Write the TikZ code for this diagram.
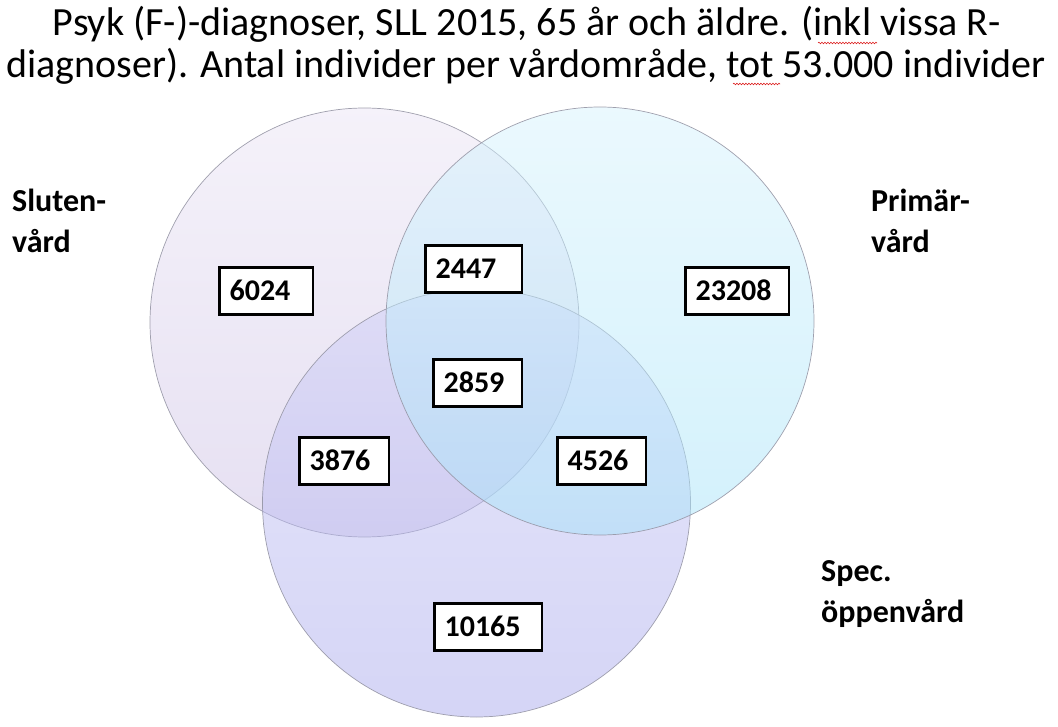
\documentclass[tikz,border=0pt]{standalone}
\usepackage{fontspec}
\setmainfont{Carlito}
\usetikzlibrary{decorations.pathmorphing}
\definecolor{cAtop}{RGB}{235,229,245}
\definecolor{cAbot}{RGB}{205,193,229}
\definecolor{cBtop}{RGB}{215,243,253}
\definecolor{cBbot}{RGB}{167,227,249}
\definecolor{cCtop}{RGB}{207,207,247}
\definecolor{cCbot}{RGB}{171,171,237}
\definecolor{rim}{RGB}{150,150,165}
\definecolor{squig}{RGB}{220,30,30}
\tikzset{
  vcirc/.style={circle, inner sep=0pt, draw=rim, line width=0.7pt, fill opacity=0.5, draw opacity=0.9},
  numbox/.style={draw=black, line width=2.6pt, fill=white, anchor=west,
     font=\bfseries\fontsize{30}{32}\selectfont, minimum height=47.4pt,
     inner xsep=10pt, inner ysep=0pt, align=left, text height=19pt, text depth=0pt},
  lbl/.style={font=\bfseries\fontsize{32}{41}\selectfont, align=left, inner sep=0pt, anchor=base west},
  ttl/.style={font=\fontsize{40}{42}\selectfont, inner sep=0pt, anchor=base},
  spell/.style={draw=squig, line width=0.6pt, decorate, decoration={snake, amplitude=0.8pt, segment length=3pt}}
}
\begin{document}
\begin{tikzpicture}[x=1pt,y=-1pt]
\useasboundingbox (0,0) rectangle (1058,727);
% circles
\node[vcirc, minimum size=429pt, top color=cAtop, bottom color=cAbot] (cA) at (364.5,322.5) {};
\node[vcirc, minimum size=428pt, top color=cCtop, bottom color=cCbot] (cC) at (476.5,503) {};
\node[vcirc, minimum size=428pt, top color=cBtop, bottom color=cBbot] (cB) at (600,321) {};
% title
\node[ttl] (t1) at (527,36) {Psyk (F-)-diagnoser, SLL 2015, 65 år och äldre. (inkl vissa R-};
\node[ttl] (t2) at (526,78) {diagnoser). Antal individer per vårdområde, tot 53.000 individer};
\coordinate (s1a) at (818,43); \coordinate (s1b) at (877,43);
\coordinate (s2a) at (733,84); \coordinate (s2b) at (780,84);
\draw[spell] (s1a) -- (s1b);
\draw[spell] (s2a) -- (s2b);
% labels (base = last line)
\node[lbl] (lA) at (12,253) {Sluten-\\vård};
\node[lbl] (lB) at (871,253) {Primär-\\vård};
\node[lbl] (lC) at (821,622) {Spec.\\öppenvård};
% number boxes
\node[numbox, text width=73.4pt] (n1) at (218.3,291) {6024};
\node[numbox, text width=76.4pt] (n2) at (424.3,269) {2447};
\node[numbox, text width=83.4pt] (n3) at (684.3,291) {23208};
\node[numbox, text width=68.4pt] (n4) at (432.3,383) {2859};
\node[numbox, text width=68.4pt] (n5) at (556.3,461) {4526};
\node[numbox, text width=69.4pt] (n6) at (298.3,461) {3876};
\node[numbox, text width=87.4pt] (n7) at (433.3,627) {10165};
\end{tikzpicture}
\end{document}
